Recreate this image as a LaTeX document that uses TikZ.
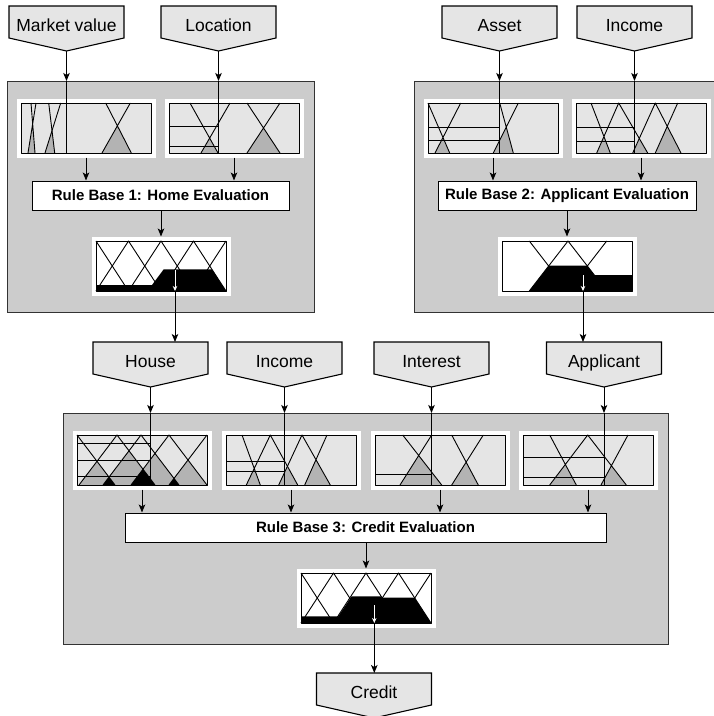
\documentclass[tikz,border=0pt]{standalone}
\usepackage{fontspec}
\setmainfont{Liberation Sans}
\usetikzlibrary{arrows.meta}

\definecolor{panelgray}{HTML}{CCCCCC}
\definecolor{taggray}{HTML}{E5E5E5}
\definecolor{mflight}{HTML}{E5E5E5}
\definecolor{mfdark}{HTML}{B3B3B3}
\definecolor{edgegray}{HTML}{333333}

\tikzset{
  panel/.style={draw=edgegray, fill=panelgray, line width=1.2pt, anchor=north west, inner sep=0pt},
  rulebox/.style={draw, fill=white, line width=1pt, inner sep=0pt, minimum height=29pt,
    font=\fontsize{15}{15}\selectfont\bfseries},
  tagtext/.style={font=\fontsize{17.5}{18}\selectfont, inner sep=0pt, anchor=base},
  tagline/.style={draw=black, fill=taggray, line width=1.1pt},
  flow/.style={line width=1pt, -{Stealth[length=8pt,width=6.5pt,inset=2pt]}},
  outflow/.style={white, line width=0.9pt, -{Stealth[length=5pt,width=4.5pt,inset=1.5pt]}},
  mfline/.style={line width=0.9pt, line join=round},
}

% variable tag: name, centre x, top y, label
\newcommand{\vartag}[4]{%
  \draw[tagline] (#2-57.5,#3) -- (#2+57.5,#3) -- (#2+57.5,#3+32) -- (#2,#3+45) -- (#2-57.5,#3+32) -- cycle;
  \node[tagtext] (#1) at (#2,#3+25) {#4};
  \coordinate (#1-top) at (#2,#3);
  \coordinate (#1-tip) at (#2,#3+45);
}
% white frame of a 130x50 plot, local y upwards
\newcommand{\mfframe}[1]{%
  \fill[white] (-4.5,-4.5) rectangle (134.5,54.5);
  \coordinate (#1-b) at (0,0);
  \coordinate (#1-s) at (65,-4.5);
  \coordinate (#1-n) at (65,54.5);
}
% overlap of a falling edge (#2 top, #3 bottom) and a rising edge (#4 bottom, #5 top)
\newcommand{\mfcross}[5]{%
  \pgfmathsetmacro{\mft}{(#3-#4)/((#3-#2)+(#5-#4))}
  \pgfmathsetmacro{\mfu}{#4+(#5-#4)*\mft}
  \pgfmathsetmacro{\mfv}{50*\mft}
  \fill[#1] (#4,0) -- (\mfu,\mfv) -- (#3,0) -- cycle;
}

\begin{document}
\begin{tikzpicture}[x=1pt,y=-1pt]
  \useasboundingbox (0,0) rectangle (714,716);

  % the three panels
  \node[panel, minimum width=307pt, minimum height=231pt] (home) at (7,81) {};
  \node[panel, minimum width=312pt, minimum height=231pt] (appl) at (414,81) {};
  \node[panel, minimum width=605pt, minimum height=231pt] (cred) at (63,413) {};

  % variables
  \vartag{mv}{66.5}{6}{Market value}
  \vartag{loc}{218.5}{6}{Location}
  \vartag{ast}{499.5}{6}{Asset}
  \vartag{inc}{634.5}{6}{Income}
  \vartag{hse}{150.5}{342}{House}
  \vartag{inb}{284.5}{342}{Income}
  \vartag{int}{431.5}{342}{Interest}
  \vartag{apl}{604}{342}{Applicant}
  \vartag{crd}{374}{673}{Credit}

  % market value
  \begin{scope}[shift={(21,153)},yscale=-1]
    \mfframe{mvp}
    \fill[mflight] (0,0) rectangle (130,50);
    \mfcross{mfdark}{10}{14}{7}{15}
    \mfcross{mfdark}{27.7}{33.7}{24}{39.7}
    \mfcross{mfdark}{84.7}{110.3}{81}{109.3}
    \draw[mfline] (10,50) -- (14,0) (7,0) -- (15,50) (27.7,50) -- (33.7,0);
    \draw[mfline] (24,0) -- (39.7,50) (84.7,50) -- (110.3,0) (81,0) -- (109.3,50);
    \draw[mfline] (0,0) rectangle (130,50);
  \end{scope}
  % location
  \begin{scope}[shift={(169,153)},yscale=-1]
    \mfframe{locp}
    \fill[mflight] (0,0) rectangle (130,50);
    \mfcross{mfdark}{21}{49}{32}{61}
    \mfcross{mfdark}{78}{111}{78}{111}
    \draw[mfline] (21,50) -- (49,0) (32,0) -- (61,50) (78,50) -- (111,0) (78,0) -- (111,50);
    \draw[mfline] (0,26.3) -- (49.3,26.3) (0,6.3) -- (49.3,6.3);
    \draw[mfline] (0,0) rectangle (130,50);
  \end{scope}
  % asset
  \begin{scope}[shift={(428,153)},yscale=-1]
    \mfframe{astp}
    \fill[mflight] (0,0) rectangle (130,50);
    \mfcross{mfdark}{0}{21.7}{7}{32.7}
    \mfcross{mfdark}{71.7}{85.3}{65.3}{90.3}
    \draw[mfline] (0,50) -- (21.7,0) (7,0) -- (32.7,50) (71.7,50) -- (85.3,0) (65.3,0) -- (90.3,50);
    \draw[mfline] (0,25.3) -- (71.7,25.3) (0,13) -- (71.7,13);
    \draw[mfline] (0,0) rectangle (130,50);
  \end{scope}
  % income
  \begin{scope}[shift={(576,153)},yscale=-1]
    \mfframe{incp}
    \fill[mflight] (0,0) rectangle (130,50);
    \mfcross{mfdark}{15}{34.3}{20.7}{42.7}
    \mfcross{mfdark}{42.7}{71.7}{56.7}{79.3}
    \mfcross{mfdark}{79.3}{105}{79.3}{101.7}
    \draw[mfline] (15,50) -- (34.3,0) (20.7,0) -- (42.7,50) -- (71.7,0);
    \draw[mfline] (56.7,0) -- (79.3,50) -- (105,0) (79.3,0) -- (101.7,50);
    \draw[mfline] (0,25.3) -- (59,25.3) (0,11.3) -- (59,11.3);
    \draw[mfline] (0,0) rectangle (130,50);
  \end{scope}

  % home output
  \begin{scope}[shift={(96,291)},yscale=-1]
    \mfframe{o1}
    \draw[mfline] (0,50) -- (32.5,0) -- (65,50) -- (97.5,0) -- (130,50);
    \draw[mfline] (0,0) -- (32.5,50) -- (65,0) -- (97.5,50) -- (130,0);
    \fill (0,0) -- (0,6) -- (56,6) -- (67.7,21.7) -- (116,21.7) -- (130,0) -- cycle;
    \draw[mfline] (0,0) rectangle (130,50);
    \coordinate (o1-c) at (79,21);
  \end{scope}
  % applicant output
  \begin{scope}[shift={(502,291)},yscale=-1]
    \mfframe{o2}
    \draw[mfline] (27.3,50) -- (66,0) (27.3,0) -- (66,50) -- (104.7,0) (66,0) -- (104.7,50);
    \fill (27.3,0) -- (46.9,25.3) -- (85.1,25.3) -- (92.3,16) -- (130,16) -- (130,0) -- cycle;
    \draw[mfline] (0,0) rectangle (130,50);
    \coordinate (o2-c) at (81,16);
  \end{scope}

  % house
  \begin{scope}[shift={(77,485)},yscale=-1]
    \mfframe{hsep}
    \fill[mflight] (0,0) rectangle (130,50);
    \mfcross{mfdark}{0}{38}{2}{40}
    \mfcross{mfdark}{40}{78}{26}{64}
    \mfcross{mfdark}{64}{102}{54}{92}
    \mfcross{mfdark}{92}{130}{92}{130}
    \mfcross{black}{0}{38}{26}{64}
    \mfcross{black}{40}{78}{54}{92}
    \mfcross{black}{64}{102}{92}{130}
    \draw[mfline] (0,50) -- (38,0) (2,0) -- (40,50) -- (78,0) (26,0) -- (64,50) -- (102,0);
    \draw[mfline] (54,0) -- (92,50) -- (130,0) (92,0) -- (130,50);
    \draw[mfline] (0,41.7) -- (73,41.7) (0,25) -- (73,25) (0,9) -- (73,9);
    \draw[mfline] (0,0) rectangle (130,50);
  \end{scope}
  % income
  \begin{scope}[shift={(226,485)},yscale=-1]
    \mfframe{inbp}
    \fill[mflight] (0,0) rectangle (130,50);
    \mfcross{mfdark}{16}{34.3}{20.3}{44.3}
    \mfcross{mfdark}{44.3}{71.7}{52.7}{76}
    \mfcross{mfdark}{76}{104.3}{78.7}{101}
    \draw[mfline] (16,50) -- (34.3,0) (20.3,0) -- (44.3,50) -- (71.7,0);
    \draw[mfline] (52.7,0) -- (76,50) -- (104.3,0) (78.7,0) -- (101,50);
    \draw[mfline] (0,24) -- (59.3,24) (0,13.3) -- (59.3,13.3);
    \draw[mfline] (0,0) rectangle (130,50);
  \end{scope}
  % interest
  \begin{scope}[shift={(375,485)},yscale=-1]
    \mfframe{intp}
    \fill[mflight] (0,0) rectangle (130,50);
    \mfcross{mfdark}{27.7}{66.7}{25}{56.7}
    \mfcross{mfdark}{76.7}{103.3}{76.7}{108.3}
    \draw[mfline] (27.7,50) -- (66.7,0) (25,0) -- (56.7,50) (76.7,50) -- (103.3,0) (76.7,0) -- (108.3,50);
    \draw[mfline] (0,11) -- (56.5,11);
    \draw[mfline] (0,0) rectangle (130,50);
  \end{scope}
  % applicant
  \begin{scope}[shift={(523,485)},yscale=-1]
    \mfframe{aplp}
    \fill[mflight] (0,0) rectangle (130,50);
    \mfcross{mfdark}{26.7}{53.3}{26.7}{64.7}
    \mfcross{mfdark}{64.7}{103.3}{78}{105}
    \draw[mfline] (26.7,50) -- (53.3,0) (26.7,0) -- (64.7,50) -- (103.3,0) (78,0) -- (105,50);
    \draw[mfline] (0,27.3) -- (81,27.3) (0,8) -- (81,8);
    \draw[mfline] (0,0) rectangle (130,50);
  \end{scope}

  % credit output
  \begin{scope}[shift={(301,623)},yscale=-1]
    \mfframe{o3}
    \draw[mfline] (0,50) -- (32.5,0) -- (65,50) -- (97.5,0) -- (130,50);
    \draw[mfline] (0,0) -- (32.5,50) -- (65,0) -- (97.5,50) -- (130,0);
    \fill (0,0) -- (0,6.7) -- (37.3,6.7) -- (50.7,26.7) -- (80.7,26.7) -- (80.7,25.3) -- (113.5,25.3) -- (130,0) -- cycle;
    \draw[mfline] (0,0) rectangle (130,50);
    \coordinate (o3-c) at (73.3,17.7);
  \end{scope}

  % rule bases
  \node[rulebox, minimum width=257pt] (rb1) at (160.5,195.5) {Rule Base 1: Home Evaluation};
  \node[rulebox, minimum width=258pt] (rb2) at (567,195.5) {Rule Base 2: Applicant Evaluation};
  \node[rulebox, minimum width=481pt] (rb3) at (365.5,527.5) {Rule Base 3: Credit Evaluation};

  % crisp inputs
  \foreach \t/\p/\b in {mv/mvp/home, loc/locp/home, ast/astp/appl, inc/incp/appl,
                        hse/hsep/cred, inb/inbp/cred, int/intp/cred, apl/aplp/cred} {
    \draw[flow] (\t-tip) -- (\t-tip |- \b.north);
    \draw[line width=1pt] (\t-tip |- \b.north) -- (\t-tip |- \p-b);
  }
  % fuzzified sets into the rule bases
  \foreach \p/\r in {mvp/rb1, locp/rb1, astp/rb2, incp/rb2, hsep/rb3, inbp/rb3, intp/rb3, aplp/rb3}
    \draw[flow] (\p-s) -- (\p-s |- \r.north);
  \draw[flow] (rb1.south -| o1-n) -- (o1-n);
  \draw[flow] (rb2.south -| o2-n) -- (o2-n);
  \draw[flow] (rb3.south -| o3-n) -- (o3-n);
  % defuzzified outputs
  \draw[outflow] (o1-c) -- (o1-c |- o1-b);
  \draw[flow] (o1-c |- o1-b) -- (o1-c |- hse-top);
  \draw[outflow] (o2-c) -- (o2-c |- o2-b);
  \draw[flow] (o2-c |- o2-b) -- (o2-c |- apl-top);
  \draw[outflow] (o3-c) -- (o3-c |- o3-b);
  \draw[flow] (o3-c |- o3-b) -- (o3-c |- crd-top);
\end{tikzpicture}
\end{document}
